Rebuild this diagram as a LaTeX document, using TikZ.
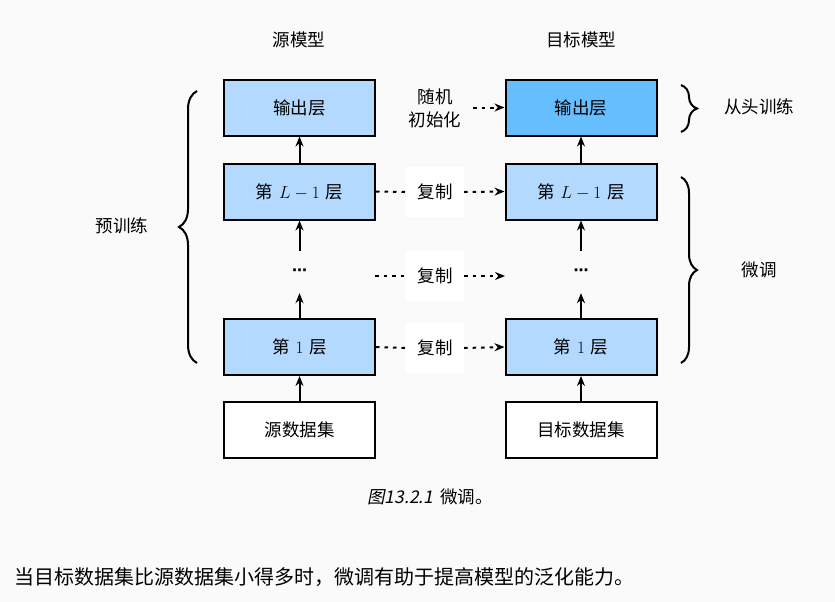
\documentclass[tikz,border=0pt]{standalone}
\usepackage{fontspec}
\usetikzlibrary{arrows.meta,decorations.pathreplacing}
\newfontfamily\cjk{Noto Sans CJK SC}
\newfontfamily\cjkit[FakeSlant=0.2]{Noto Sans CJK SC}
\newfontfamily\dotsfont{DejaVu Sans}
\definecolor{bgc}{RGB}{250,250,250}
\definecolor{lightb}{RGB}{179,217,255}
\definecolor{darkb}{RGB}{102,190,255}
\tikzset{
  layer/.style={draw=black, line width=2pt, minimum width=151pt, minimum height=56pt, inner sep=0pt, font=\cjk\fontsize{17.5}{20}\selectfont},
  lbl/.style={font=\cjk\fontsize{17.5}{20}\selectfont, inner sep=0pt},
  copybox/.style={fill=white, minimum width=58pt, minimum height=50pt, inner sep=0pt, font=\cjk\fontsize{17.5}{20}\selectfont},
  dotsnode/.style={inner sep=0pt, minimum height=42pt, font=\dotsfont\bfseries\fontsize{15}{15}\selectfont},
  solidarr/.style={-{Stealth[length=10pt,width=8pt]}, line width=2pt},
  dotarr/.style={-{Stealth[length=10pt,width=8pt]}, line width=2pt, dash pattern=on 3.5pt off 5pt},
  dotline/.style={line width=2pt, dash pattern=on 3.5pt off 5pt},
  bracestyle/.style={line width=2pt, decorate},
}
\begin{document}
\begin{tikzpicture}[x=1pt,y=-1pt]
\path[fill=bgc] (0,0) rectangle (835,602);
\useasboundingbox (0,0) rectangle (835,602);

% titles
\node[lbl] (st) at (299,40) {源模型};
\node[lbl] (tt) at (581,40) {目标模型};

% source column
\node[layer, fill=lightb] (so) at (299.5,107.5) {输出层};
\node[layer, fill=lightb] (sl) at (299.5,191.5) {第\,\,$L-1$\,\,层};
\node[dotsnode] (sd) at (299.5,272) {⋯};
\node[layer, fill=lightb] (s1) at (299.5,347) {第\,\,$1$\,\,层};
\node[layer, fill=white] (sds) at (299.5,430) {源数据集};

% target column
\node[layer, fill=darkb] (to) at (581,107.5) {输出层};
\node[layer, fill=lightb] (tl) at (581,191.5) {第\,\,$L-1$\,\,层};
\node[dotsnode] (td) at (581,272) {⋯};
\node[layer, fill=lightb] (t1) at (581,347) {第\,\,$1$\,\,层};
\node[layer, fill=white] (tds) at (581,430) {目标数据集};

% vertical arrows
\draw[solidarr] (sds) -- (s1);
\draw[solidarr] (s1) -- (sd);
\draw[solidarr] (sd) -- (sl);
\draw[solidarr] (sl) -- (so);
\draw[solidarr] (tds) -- (t1);
\draw[solidarr] (t1) -- (td);
\draw[solidarr] (td) -- (tl);
\draw[solidarr] (tl) -- (to);

% copy labels
\node[copybox] (c1) at (435,192) {复制};
\node[copybox] (c2) at (435,276) {复制};
\node[copybox] (c3) at (435,348) {复制};
\coordinate (c2l) at (375,276);
\coordinate (c2r) at (505,276);
\draw[dotline] (sl.east) -- (c1.west);
\draw[dotarr] (c1.east) -- (tl.west);
\draw[dotline] (c2l) -- (c2.west);
\draw[dotarr] (c2.east) -- (c2r);
\draw[dotline] (s1.east) -- (c3.west);
\draw[dotarr] (c3.east) -- (t1.west);

% random init
\node[lbl, align=center] (ri) at (435,108) {随机\\[3pt]初始化};
\coordinate (ria) at (473,107.5);
\draw[dotarr] (ria) -- (to.west);

% braces
\coordinate (lb1) at (197,363);
\coordinate (lb2) at (197,91);
\draw[bracestyle, decoration={brace, amplitude=18pt}] (lb1) -- (lb2);
\node[lbl] (pre) at (122,226) {预训练};

\coordinate (rb1) at (681,85);
\coordinate (rb2) at (681,132);
\draw[bracestyle, decoration={brace, amplitude=16pt}] (rb1) -- (rb2);
\node[lbl] (scr) at (759,107) {从头训练};

\coordinate (rb3) at (681,177);
\coordinate (rb4) at (681,363);
\draw[bracestyle, decoration={brace, amplitude=16pt}] (rb3) -- (rb4);
\node[lbl] (ft) at (759,270) {微调};

% caption
\node[inner sep=0pt, font=\fontsize{17.5}{20}\selectfont] (cap) at (430,497) {{\cjkit 图13.2.1}\hspace{7pt}{\cjk 微调。}};

% bottom text
\node[inner sep=0pt, anchor=west, font=\cjk\fontsize{20}{22}\selectfont] (txt) at (14,577) {当目标数据集比源数据集小得多时，微调有助于提高模型的泛化能力。};
\end{tikzpicture}
\end{document}
